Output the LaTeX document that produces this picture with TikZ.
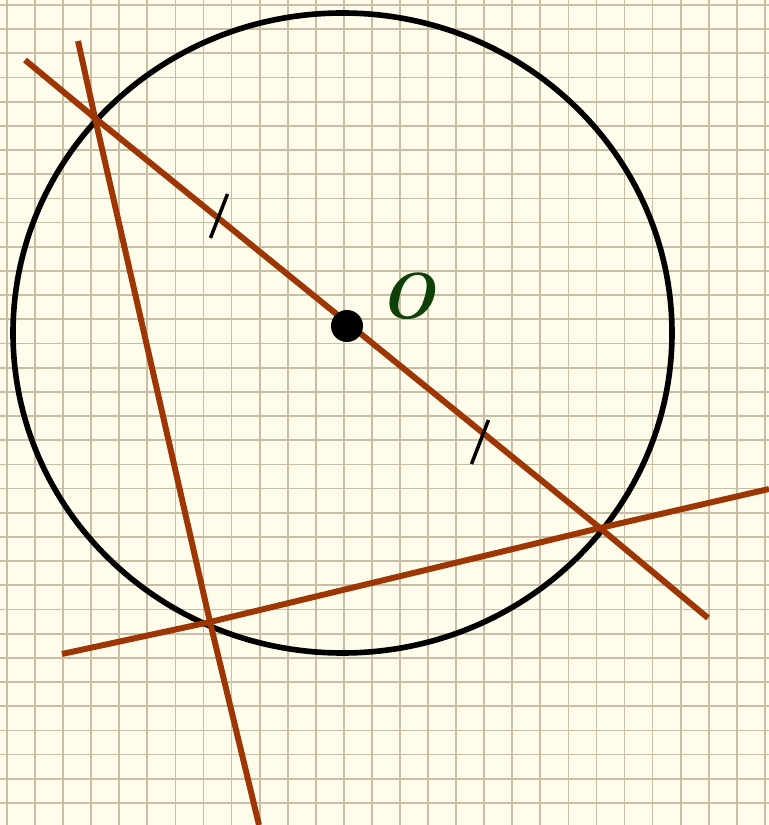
\documentclass[tikz,border=0pt]{standalone}
\usepackage{fontspec}
\usepackage{tikz}
\usetikzlibrary{calc, positioning}
\definecolor{paper}{RGB}{255, 252, 236}
\definecolor{gridline}{RGB}{200, 190, 165}
\definecolor{chord}{RGB}{158, 54, 4}
\definecolor{labelO}{RGB}{14, 64, 8}

\tikzset{
  seg/.style={chord, line width=3.4pt},
  tickmark/.style={black, line width=2pt},
  dot/.style={circle, fill=black, inner sep=0pt, minimum width=0.64cm, minimum height=0.58cm}
}

\begin{document}
\begin{tikzpicture}
  % paper with grid
  \fill[paper] (0, 0) rectangle (15.38, 16.5);
  \useasboundingbox (0, 0) rectangle (15.38, 16.5);
  \foreach \k in {0,...,27}
    \draw[gridline, line width=1pt] ({0.14+0.5614*\k}, 0) -- ({0.14+0.5614*\k}, 16.5);
  \foreach \k in {0,...,33}
    \draw[gridline, line width=1pt] (0, {16.4-0.4836*\k}) -- (15.38, {16.4-0.4836*\k});

  % circle
  \draw[black, line width=3.2pt] (6.85, 9.84) ellipse [x radius=6.59, y radius=6.40];

  % points on the circle
  \coordinate (A) at (1.90, 14.14);
  \coordinate (B) at (12.00, 5.94);
  \coordinate (C) at (4.20, 4.06);

  % free ends of the lines
  \coordinate (ab1) at (0.50, 15.30);
  \coordinate (ab2) at (14.16, 4.14);
  \coordinate (ac1) at (1.56, 15.68);
  \coordinate (ac2) at (5.18, 0);
  \coordinate (cb1) at (1.24, 3.42);
  \coordinate (cb2) at (15.38, 6.72);

  \draw[seg] (ab1) -- (A) -- (B) -- (ab2);
  \draw[seg] (ac1) -- (A) -- (C) -- (ac2);
  \draw[seg] (cb1) -- (C) -- (B) -- (cb2);

  % equal halves
  \coordinate (t1) at (4.38, 12.18);
  \coordinate (t2) at (9.60, 7.66);
  \draw[tickmark] ($(t1)+(-0.17,-0.44)$) -- ($(t1)+(0.17,0.44)$);
  \draw[tickmark] ($(t2)+(-0.17,-0.44)$) -- ($(t2)+(0.17,0.44)$);

  \node[dot] (O) at (6.94, 9.98) {};
  \node[labelO, font=\fontsize{37}{40}\selectfont\bfseries\itshape] (Olabel) at (8.14, 10.58) {O};
\end{tikzpicture}
\end{document}
